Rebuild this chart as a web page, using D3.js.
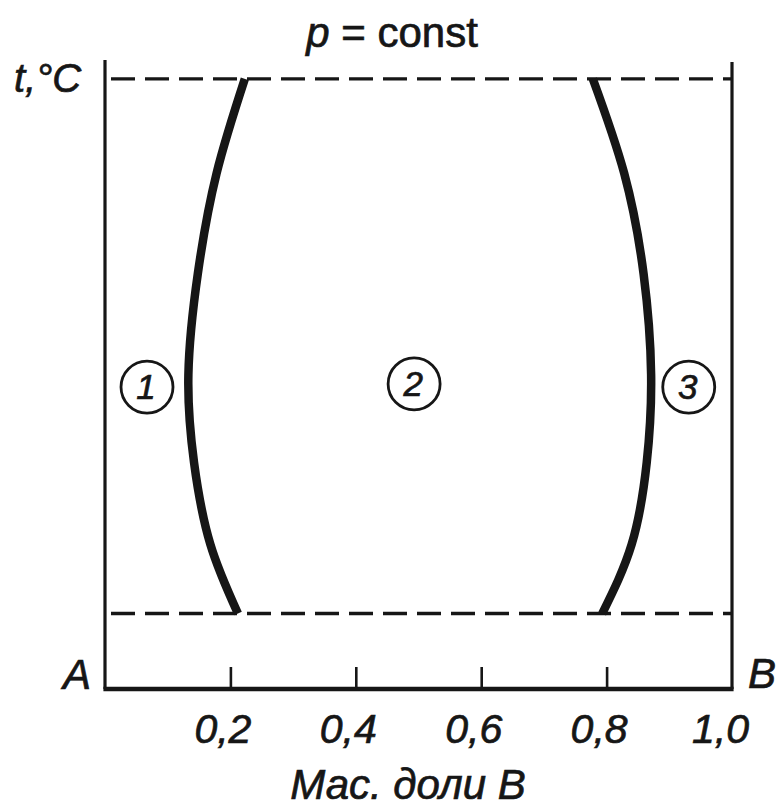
<!DOCTYPE html>
<html>
<head>
<meta charset="utf-8">
<script src="https://cdn.jsdelivr.net/npm/d3@7"></script>
<style>
  html, body { margin: 0; padding: 0; background: #fff; }
  svg text {
    font-family: "Liberation Sans", Arial, sans-serif;
    fill: #161616; stroke: #161616; stroke-width: 0.7;
  }
</style>
</head>
<body>
<script>
// Composition axis (mass fraction of B), ticks and labels
const tickValues = [0.2, 0.4, 0.6, 0.8, 1.0];
const tickLabels = ["0,2", "0,4", "0,6", "0,8", "1,0"];

// Temperature levels bounding the diagram (relative units)
const isotherms = [12, 97];

// Solubility boundaries: mass fraction of B vs temperature
const boundaryLeft = [
  { w: 0.223, t: 97 }, { w: 0.178, t: 82 }, { w: 0.148, t: 66 },
  { w: 0.133, t: 50 }, { w: 0.142, t: 36 }, { w: 0.168, t: 23 },
  { w: 0.212, t: 12 }
];
const boundaryRight = [
  { w: 0.778, t: 97 }, { w: 0.828, t: 82 }, { w: 0.859, t: 66 },
  { w: 0.871, t: 50 }, { w: 0.864, t: 36 }, { w: 0.840, t: 23 },
  { w: 0.793, t: 12 }
];

// Phase-region markers
const regions = [
  { label: "1", w: 0.067, t: 48 },
  { label: "2", w: 0.493, t: 48.5 },
  { label: "3", w: 0.931, t: 48 }
];

const W = 778, H = 812;
const x = d3.scaleLinear().domain([0, 1]).range([105, 732]);
const y = d3.scaleLinear().domain([0, 100]).range([689, 60]);

const svg = d3.select("body").append("svg")
  .attr("width", W).attr("height", H)
  .attr("viewBox", `0 0 ${W} ${H}`);

svg.append("rect").attr("width", W).attr("height", H).attr("fill", "#fff");

const ink = "#161616";

// Dashed isotherms
svg.selectAll("line.iso").data(isotherms).enter().append("line")
  .attr("class", "iso")
  .attr("x1", x(0) + 6).attr("x2", x(1))
  .attr("y1", d => y(d)).attr("y2", d => y(d))
  .attr("stroke", ink).attr("stroke-width", 3.3)
  .attr("stroke-dasharray", "24 10");

// Vertical axes for pure A and pure B
svg.append("line")
  .attr("x1", x(0)).attr("x2", x(0))
  .attr("y1", y(100)).attr("y2", y(0))
  .attr("stroke", ink).attr("stroke-width", 3.2);
svg.append("line")
  .attr("x1", x(1)).attr("x2", x(1))
  .attr("y1", y(99.7)).attr("y2", y(0))
  .attr("stroke", ink).attr("stroke-width", 3.2);

// Bottom composition axis
const xAxis = d3.axisBottom(x)
  .tickValues(tickValues)
  .tickSize(0)
  .tickFormat((d, i) => tickLabels[i]);
const gx = svg.append("g").attr("transform", `translate(0,${y(0)})`).call(xAxis);
gx.select(".domain")
  .attr("d", `M${x(0) - 1.6},0H${x(1) + 1.6}`)
  .attr("stroke", ink).attr("stroke-width", 4.5);
gx.selectAll(".tick line").remove();
gx.selectAll(".tick").filter(d => d < 1).append("line")
  .attr("y1", 0).attr("y2", -22)
  .attr("stroke", ink).attr("stroke-width", 2.6);
gx.selectAll(".tick text")
  .attr("y", 0).attr("dy", 0)
  .attr("transform", d => `translate(${d === 1 ? -12 : -8},54)`)
  .attr("font-size", 41).attr("font-style", "italic")
  .attr("fill", ink).attr("text-anchor", "middle");

// Solubility curves
const line = d3.line().x(d => x(d.w)).y(d => y(d.t)).curve(d3.curveNatural);
[boundaryLeft, boundaryRight].forEach(data => {
  svg.append("path").datum(data)
    .attr("d", line)
    .attr("fill", "none").attr("stroke", ink)
    .attr("stroke-width", 8.5);
});

// Circled region numbers
const reg = svg.selectAll("g.region").data(regions).enter().append("g")
  .attr("class", "region")
  .attr("transform", d => `translate(${x(d.w)},${y(d.t)})`);
reg.append("circle").attr("r", 26)
  .attr("fill", "#fff").attr("stroke", ink).attr("stroke-width", 2.8);
reg.append("text").text(d => d.label)
  .attr("text-anchor", "middle").attr("y", 12).attr("x", -1)
  .attr("font-size", 35).attr("font-style", "italic");

// Text labels
svg.append("text").attr("x", 392).attr("y", 47)
  .attr("text-anchor", "middle").attr("font-size", 42)
  .html('<tspan font-style="italic">p</tspan> = const');

svg.append("text").attr("x", 14).attr("y", 92)
  .attr("font-size", 40).attr("font-style", "italic")
  .text("t,°C");

svg.append("text").attr("x", 63).attr("y", 689)
  .attr("font-size", 42).attr("font-style", "italic").text("A");
svg.append("text").attr("x", 748).attr("y", 688)
  .attr("font-size", 42).attr("font-style", "italic").text("B");

svg.append("text").attr("x", 408).attr("y", 799)
  .attr("text-anchor", "middle").attr("font-size", 42)
  .attr("font-style", "italic")
  .text("Мас. доли В");
</script>
</body>
</html>
